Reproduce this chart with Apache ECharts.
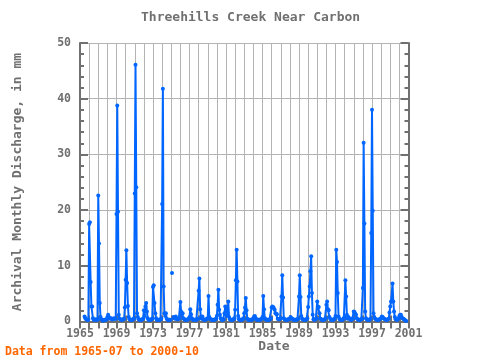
<!DOCTYPE html>
<html>
<head>
<meta charset="utf-8">
<script src="https://cdn.jsdelivr.net/npm/echarts@6/dist/echarts.min.js"></script>
<style>html,body{margin:0;padding:0;background:#fff;}#chart{width:480px;height:360px;}</style>
</head>
<body>
<div id="chart"></div>
<script>
// Monthly discharge (mm), first value = 1965-07, last = 2000-10
const startYear = 1965;
const startMonth = 7;
const discharge = [
  /*1965*/ 0.9, 0.6, 0.4, 0.3, 0.3, 0.3,
  /*1966*/ 17.5, 17.8, 7.1, 2.7, 2.7, 0.6, 0.3, 0.3, 0.3, 0.4, 0.3, 0.3,
  /*1967*/ 22.6, 14.0, 3.3, 0.8, 0.4, 0.3, 0.2, 0.2, 0.3, 0.3, 0.3, 0.4,
  /*1968*/ 0.8, 1.2, 0.8, 0.6, 0.5, 0.6, 0.4, 0.4, 0.5, 0.6, 0.5, 0.5,
  /*1969*/ 19.3, 38.8, 19.7, 1.2, 0.5, 0.4, 0.3, 0.3, 0.3, 0.4, 0.5, 2.5,
  /*1970*/ 7.5, 12.8, 6.9, 2.8, 0.8, 0.4, 0.3, 0.3, 0.3, 0.3, 0.4, 0.6,
  /*1971*/ 23.0, 46.1, 24.1, 1.5, 0.8, 0.4, 0.3, 0.3, 0.3, 0.3, 0.4, 0.5,
  /*1972*/ 2.0, 1.0, 2.7, 3.3, 1.8, 0.6, 0.3, 0.3, 0.3, 0.3, 0.4, 0.5,
  /*1973*/ 6.2, 6.5, 3.3, 1.5, 0.6, 0.3, 0.3, 0.3, 0.3, 0.3, 0.4, 0.5,
  /*1974*/ 21.1, 41.8, 6.3, 1.5, 1.0, 1.5, 0.5, 0.3, 0.3, 0.3, 0.3, 0.3,
  /*1975*/ null, 8.7, null, 0.8, 0.6, 0.5, 0.9, 0.5, 0.4, 0.4, 0.5, 0.6,
  /*1976*/ 3.5, 1.8, 1.2, 1.5, 0.6, 0.4, 0.3, 0.3, 0.3, 0.3, 0.4, 0.5,
  /*1977*/ 0.8, 2.2, 1.3, 0.6, 0.4, 0.3, 0.3, 0.3, 0.3, 0.3, 0.4, 0.5,
  /*1978*/ 5.5, 7.7, 2.2, 0.8, 0.5, 0.9, 0.4, 0.3, 0.3, 0.3, 0.4, 0.5,
  /*1979*/ 0.6, 4.6, 0.8, 0.5, 0.4, 0.3, 0.3, 0.3, 0.3, 0.3, 0.4, 0.5,
  /*1980*/ 1.0, 3.0, 5.7, 2.1, 1.2, 0.6, 0.3, 0.3, 0.3, 0.4, 1.5, 2.7,
  /*1981*/ 2.5, 1.0, 1.5, 3.6, 0.8, 0.4, 0.3, 0.3, 0.3, 0.3, 0.4, 0.6,
  /*1982*/ 2.1, 7.4, 12.9, 7.2, 1.0, 0.4, 0.3, 0.3, 0.3, 0.3, 0.4, 0.6,
  /*1983*/ 1.5, 2.5, 4.2, 2.0, 0.5, 0.3, 0.3, 0.3, 0.3, 0.3, 0.3, 0.4,
  /*1984*/ 0.6, 0.9, 1.0, 0.6, 0.4, 0.3, 0.3, 0.3, 0.3, 0.3, 0.4, 0.5,
  /*1985*/ 0.8, 4.6, 2.2, 0.6, 0.4, 0.3, 0.3, 0.3, 0.3, 0.3, 0.4, 0.6,
  /*1986*/ 2.5, 2.7, 2.6, 2.4, 2.1, 1.5, 1.4, 1.3, 0.5, 0.4, 0.4, 0.5,
  /*1987*/ 0.6, 4.5, 8.3, 4.3, 0.6, 0.4, 0.3, 0.3, 0.3, 0.3, 0.4, 0.5,
  /*1988*/ 0.5, 0.8, 0.6, 0.5, 0.4, 0.3, 0.3, 0.3, 0.3, 0.3, 0.4, 0.5,
  /*1989*/ 4.5, 8.3, 4.4, 1.0, 0.5, 0.4, 0.3, 0.3, 0.3, 0.3, 0.4, 0.6,
  /*1990*/ 2.6, 4.5, 6.3, 9.0, 11.7, 5.1, 1.2, 0.4, 0.3, 0.3, 0.4, 0.6,
  /*1991*/ 3.6, 2.6, 2.6, 1.5, 0.5, 0.4, 0.3, 0.3, 0.3, 0.3, 0.4, 0.6,
  /*1992*/ 3.0, 3.6, 2.2, 2.0, 0.8, 0.5, 0.3, 0.3, 0.3, 0.3, 0.4, 0.5,
  /*1993*/ 1.0, 12.9, 10.7, 5.1, 0.9, 0.5, 0.3, 0.3, 0.3, 0.3, 0.4, 0.6,
  /*1994*/ 0.8, 7.4, 4.5, 1.2, 0.5, 0.8, 0.6, 0.4, 0.3, 0.3, 0.4, 0.6,
  /*1995*/ 1.8, 1.7, 1.4, 1.2, 0.6, 0.4, 0.3, 0.3, 0.3, 0.3, 0.4, 0.5,
  /*1996*/ 6.0, 32.1, 17.6, 1.8, 0.6, 0.4, 0.3, 0.3, 0.3, 0.3, 0.5, 15.9,
  /*1997*/ 38.0, 19.9, 1.5, 0.8, 0.5, 0.4, 0.3, 0.3, 0.3, 0.3, 0.4, 0.5,
  /*1998*/ 0.6, 0.9, 0.8, 0.6, 0.5, 0.4, 0.3, 0.3, 0.3, 0.4, 0.5, 1.6,
  /*1999*/ 2.7, 3.6, 3.6, 6.8, 3.6, 1.8, 0.8, 0.4, 0.3, 0.3, 0.4, 0.6,
  /*2000*/ 1.0, 1.2, 1.2, 0.8, 0.6, 0.5, 0.4, 0.3, 0.2, 0.1
];
const xTickLabels = [1965, 1969, 1973, 1977, 1981, 1985, 1989, 1993, 1997, 2001];
const yTickLabels = [0, 10, 20, 30, 40, 50];
const titleText = 'Threehills Creek Near Carbon';
const xName = 'Date';
const yName = 'Archival Monthly Discharge, in mm';
const noteText = 'Data from 1965-07 to 2000-10';

const points = discharge.map((v, i) => [startYear + (startMonth - 1 + i) / 12, v]);

const FONT = 'DejaVu Sans Mono';
const GRAY = '#707070';
const frame = { show: true, lineStyle: { color: GRAY, width: 2 } };
const tick = (len) => ({ show: true, inside: true, length: len, lineStyle: { color: GRAY, width: 2 } });

const chart = echarts.init(document.getElementById('chart'), null, { renderer: 'canvas' });
chart.setOption({
  animation: false,
  backgroundColor: '#fff',
  grid: { left: 80, top: 43, width: 328.5, height: 278.5, containLabel: false },
  xAxis: [
    {
      type: 'value', position: 'bottom',
      min: xTickLabels[0], max: xTickLabels[xTickLabels.length - 1], interval: 1,
      axisLine: frame, axisTick: tick(6),
      axisLabel: {
        color: GRAY, fontFamily: FONT, fontSize: 11.5, fontWeight: 'bold', margin: 7,
        formatter: (v) => (xTickLabels.indexOf(Math.round(v)) >= 0 ? String(Math.round(v)) : '')
      },
      splitLine: { show: true, lineStyle: { color: '#b4b4b4', width: 1 } }
    },
    {
      type: 'value', position: 'top',
      min: xTickLabels[0], max: xTickLabels[xTickLabels.length - 1], interval: 1,
      axisLine: frame, axisTick: tick(7), axisLabel: { show: false }, splitLine: { show: false }
    }
  ],
  yAxis: [
    {
      type: 'value', position: 'left',
      min: yTickLabels[0], max: yTickLabels[yTickLabels.length - 1], interval: 10,
      axisLine: frame, axisTick: tick(8),
      minorTick: { show: true, splitNumber: 5, length: 4, lineStyle: { color: GRAY, width: 2 } },
      axisLabel: { color: GRAY, fontFamily: FONT, fontSize: 11.5, fontWeight: 'bold', margin: 9 },
      splitLine: { show: true, lineStyle: { color: '#b4b4b4', width: 1 } }
    },
    {
      type: 'value', position: 'right',
      min: yTickLabels[0], max: yTickLabels[yTickLabels.length - 1], interval: 10,
      axisLine: frame, axisTick: tick(8),
      minorTick: { show: true, splitNumber: 5, length: 4, lineStyle: { color: GRAY, width: 2 } },
      axisLabel: { show: false }, splitLine: { show: false }
    }
  ],
  series: [{
    type: 'line',
    data: points,
    xAxisIndex: 0, yAxisIndex: 0,
    connectNulls: false,
    showSymbol: true,
    symbol: 'circle',
    symbolSize: 4,
    lineStyle: { color: '#0066ff', width: 2 },
    itemStyle: { color: '#0066ff' },
    z: 3
  }],
  graphic: [
    { type: 'text', left: 141, top: 11,
      style: { text: titleText, fill: GRAY, font: 'bold 13px "DejaVu Sans Mono"' } },
    { type: 'text', x: 274, y: 347, style: { text: xName, fill: GRAY, font: 'bold 13px "DejaVu Sans Mono"', textAlign: 'center', textVerticalAlign: 'middle' } },
    { type: 'text', x: 18, y: 182, rotation: Math.PI / 2,
      style: { text: yName, fill: GRAY, font: 'bold 13px "DejaVu Sans Mono"', textAlign: 'center', textVerticalAlign: 'middle' } },
    { type: 'text', x: 5, y: 352,
      style: { text: noteText, fill: '#ff6600', font: 'bold 11.5px "DejaVu Sans Mono"', textAlign: 'left', textVerticalAlign: 'middle' } }
  ]
});
</script>
</body>
</html>
